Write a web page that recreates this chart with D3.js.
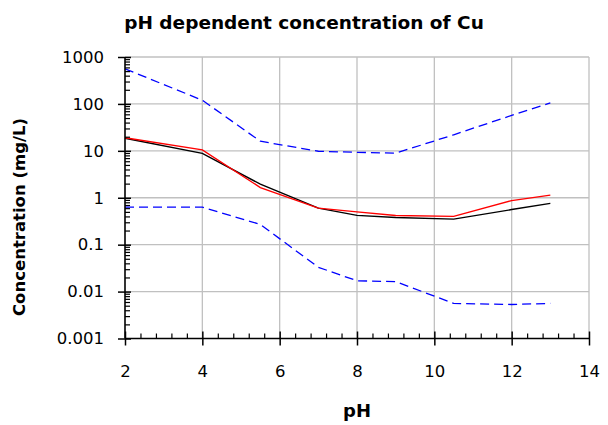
<!DOCTYPE html>
<html>
<head>
<meta charset="utf-8">
<script src="https://cdn.jsdelivr.net/npm/d3@7"></script>
<style>
  html, body { margin: 0; padding: 0; background: #fff; }
  svg { display: block; }
  text { font-family: "DejaVu Sans", Verdana, sans-serif; fill: #000; }
</style>
</head>
<body>
<svg id="chart" width="608" height="425"></svg>
<script>
// pH values at which concentrations were evaluated
const pH = [2, 4, 5.5, 7, 8, 9, 10.5, 12, 13];

// Cu concentration (mg/L)
const upperBound = [560, 120, 16, 9.8, 9.3, 8.9, 22, 57, 105];
const modelA     = [19, 10.5, 1.65, 0.6, 0.5, 0.42, 0.40, 0.87, 1.14];   // red
const modelB     = [18.6, 8.8, 1.95, 0.6, 0.42, 0.38, 0.35, 0.56, 0.76]; // black
const lowerBound = [0.63, 0.63, 0.27, 0.033, 0.017, 0.0163, 0.0056, 0.0053, 0.0056];

const xTicks = [2, 4, 6, 8, 10, 12, 14];
const yTicks = [0.001, 0.01, 0.1, 1, 10, 100, 1000];
const yTickLabels = ["0.001", "0.01", "0.1", "1", "10", "100", "1000"];

const titleText = "pH dependent concentration of Cu";
const xTitle = "pH";
const yTitle = "Concentration (mg/L)";

const svg = d3.select("#chart");
const margin = { left: 125, right: 19, top: 57, bottom: 86.5 };
const W = 608, H = 425;

const x = d3.scaleLinear().domain([2, 14]).range([margin.left, W - margin.right]);
const y = d3.scaleLog().domain([0.001, 1000]).range([H - margin.bottom, margin.top]);

// grid
const grid = svg.append("g").attr("stroke", "#c0c0c0").attr("stroke-width", 1.3);
grid.selectAll("line.v").data(xTicks.slice(1)).join("line")
  .attr("x1", d => x(d)).attr("x2", d => x(d))
  .attr("y1", y(1000)).attr("y2", y(0.001));
grid.selectAll("line.h").data(yTicks.slice(1)).join("line")
  .attr("x1", x(2)).attr("x2", x(14))
  .attr("y1", d => y(d)).attr("y2", d => y(d));

// series
const line = d3.line().x((d, i) => x(pH[i])).y(d => y(d));
const series = [
  { values: upperBound, color: "#0000ff", dash: "9,5", width: 1.3 },
  { values: lowerBound, color: "#0000ff", dash: "9,5", width: 1.3 },
  { values: modelB, color: "#000000", dash: null, width: 1.4 },
  { values: modelA, color: "#ff0000", dash: null, width: 1.4 }
];
svg.append("g").selectAll("path").data(series).join("path")
  .attr("d", d => line(d.values))
  .attr("fill", "none")
  .attr("stroke", d => d.color)
  .attr("stroke-width", d => d.width)
  .attr("stroke-dasharray", d => d.dash);

// x axis
const xAxis = svg.append("g").attr("transform", `translate(0,${y(0.001)})`);
const xMinor = d3.range(2, 14.001, 0.4).filter(v => Math.abs(v / 2 - Math.round(v / 2)) > 1e-6);
xAxis.call(d3.axisBottom(x).tickValues(xMinor).tickSize(5).tickFormat(""))
  .call(g => g.selectAll(".tick line").attr("y2", -5).attr("stroke-width", 1.2))
  .call(g => g.select(".domain").remove());
const xMajor = svg.append("g").attr("transform", `translate(0,${y(0.001)})`);
xMajor.call(d3.axisBottom(x).tickValues(xTicks).tickSize(7).tickPadding(20).tickFormat(d3.format("d")))
  .call(g => g.selectAll(".tick line").attr("y1", -7).attr("y2", 7).attr("stroke-width", 1.5))
  .call(g => g.select(".domain").attr("stroke-width", 1.6).attr("d", `M${x(2)},0H${x(14)}`))
  .call(g => g.selectAll(".tick text").attr("font-size", 16.5).attr("font-family", "DejaVu Sans"));

// y axis
const yMinorVals = [];
for (let e = -3; e < 3; e++) for (let m = 2; m <= 9; m++) yMinorVals.push(m * Math.pow(10, e));
const yAxis = svg.append("g").attr("transform", `translate(${x(2)},0)`);
yAxis.call(d3.axisRight(y).tickValues(yMinorVals).tickSize(5).tickFormat(""))
  .call(g => g.selectAll(".tick line").attr("stroke-width", 1.2))
  .call(g => g.select(".domain").remove());
const yMajor = svg.append("g").attr("transform", `translate(${x(2)},0)`);
yMajor.call(d3.axisLeft(y).tickValues(yTicks).tickSize(7).tickPadding(14)
    .tickFormat((d, i) => yTickLabels[i]))
  .call(g => g.selectAll(".tick line").attr("x1", 6).attr("stroke-width", 1.5))
  .call(g => g.select(".domain").attr("stroke-width", 1.6).attr("d", `M0,${y(1000)}V${y(0.001)}`))
  .call(g => g.selectAll(".tick text").attr("font-size", 16.5).attr("font-family", "DejaVu Sans"));

// titles
svg.append("text").attr("x", 304).attr("y", 29).attr("text-anchor", "middle")
  .attr("font-size", 18.5).attr("font-weight", "bold").text(titleText);
svg.append("text").attr("x", (x(2) + x(14)) / 2).attr("y", 417).attr("text-anchor", "middle")
  .attr("font-size", 18).attr("font-weight", "bold").text(xTitle);
svg.append("text")
  .attr("transform", `translate(25,217) rotate(-90)`)
  .attr("text-anchor", "middle")
  .attr("font-size", 16.5).attr("font-weight", "bold").text(yTitle);
</script>
</body>
</html>
